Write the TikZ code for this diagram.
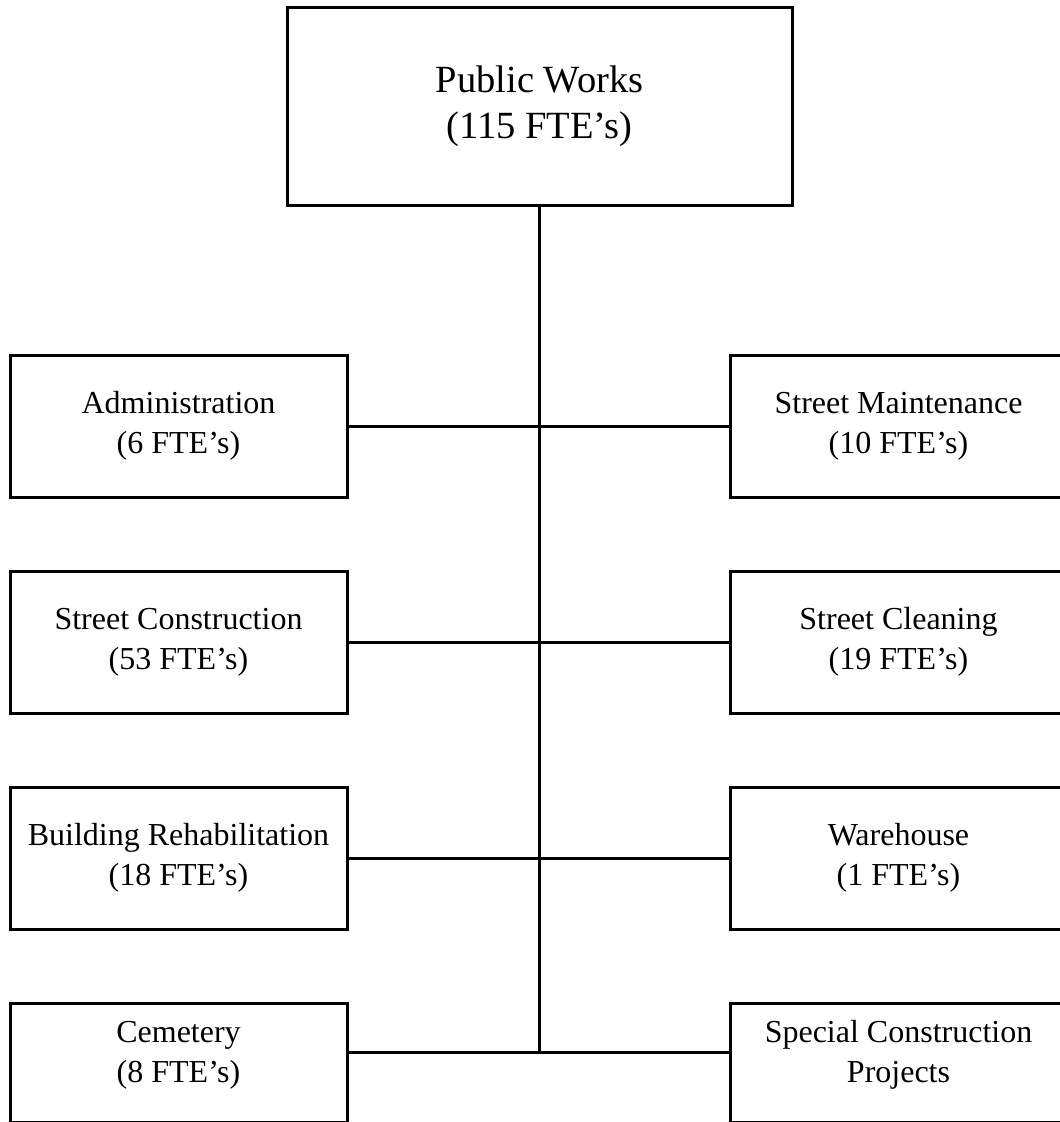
\documentclass[tikz,border=0pt]{standalone}
\usepackage{fontspec}
\setmainfont{Liberation Serif}

\begin{document}
\begin{tikzpicture}[x=1pt, y=-1pt, line width=3pt,
  every node/.style={font=\fontsize{32}{40}\selectfont, align=center},
  unit/.style={draw, minimum width=337pt, minimum height=142pt, inner sep=0pt},
  lastunit/.style={unit, anchor=north, minimum height=0pt, text height=79pt, text depth=40pt}]
\useasboundingbox (0,0) rectangle (1060,1122);
\node[unit, minimum width=505pt, minimum height=198pt,
  font=\fontsize{38.5}{46}\selectfont] (pw) at (539.5,106) {Public Works\\(115 FTE’s)};
% left column
\node[unit] (adm) at (178.5,426) {Administration\\(6 FTE’s)};
\node[unit] (scon) at (178.5,642) {Street Construction\\(53 FTE’s)};
\node[unit] (brehab) at (178.5,858) {Building Rehabilitation\\(18 FTE’s)};
\node[lastunit] (cem) at (178.5,1002) {Cemetery\\(8 FTE’s)};
% right column
\node[unit] (smaint) at (898.5,426) {Street Maintenance\\(10 FTE’s)};
\node[unit] (sclean) at (898.5,642) {Street Cleaning\\(19 FTE’s)};
\node[unit] (wh) at (898.5,858) {Warehouse\\(1 FTE’s)};
\node[lastunit] (scp) at (898.5,1002) {Special Construction\\Projects};
\coordinate (jn) at (539.5,1052);
\draw (pw.south) -- (jn);
\draw (adm.east) -- (smaint.west);
\draw (scon.east) -- (sclean.west);
\draw (brehab.east) -- (wh.west);
\draw (cem.east |- jn) -- (scp.west |- jn);
\end{tikzpicture}
\end{document}
